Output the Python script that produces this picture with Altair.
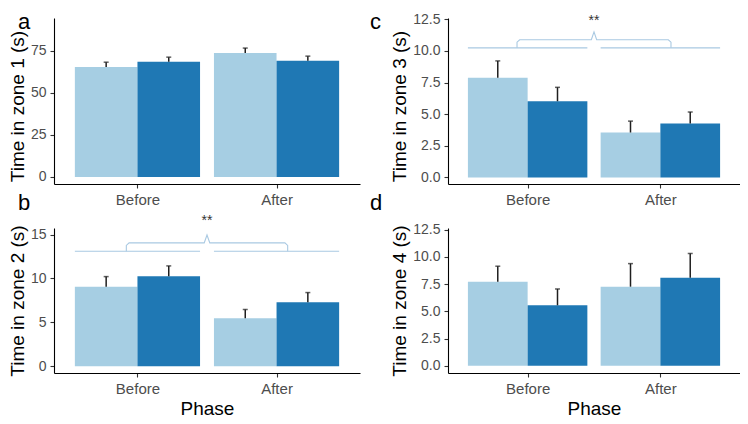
import altair as alt
import pandas as pd

# ---------------- data ----------------
phases = ["Before", "After"]
groups = ["Group 1", "Group 2"]
group_colors = ["#a6cee3", "#1f78b4"]

# mean time per phase (Before, After) and standard error, light = Group 1, dark = Group 2
zone1_g1 = [65.4, 73.8]
zone1_g1_se = [2.9, 2.9]
zone1_g2 = [68.5, 69.2]
zone1_g2_se = [2.8, 2.7]

zone2_g1 = [9.06, 5.46]
zone2_g1_se = [1.15, 1.0]
zone2_g2 = [10.25, 7.28]
zone2_g2_se = [1.18, 1.11]

zone3_g1 = [7.87, 3.55]
zone3_g1_se = [1.34, 0.9]
zone3_g2 = [6.02, 4.27]
zone3_g2_se = [1.1, 0.9]

zone4_g1 = [7.72, 7.27]
zone4_g1_se = [1.43, 2.12]
zone4_g2 = [5.56, 8.10]
zone4_g2_se = [1.5, 2.22]

zone1_ticks = [0, 25, 50, 75]
zone2_ticks = [0, 5, 10, 15]
zone34_ticks = [0, 2.5, 5, 7.5, 10, 12.5]

# significance brace levels: group underline, brace top, brace peak, star label
zone2_brace = [13.1, 14.05, 14.95, 16.6]
zone3_brace = [10.24, 10.88, 11.5, 12.4]
star_text = "**"

DODGE = 0.9
XDOM = [0.4, 2.6]
BRACE_COLOR = "#a9c9e2"
ERR_COLOR = "#1f1f1f"
FONT = "Liberation Sans"


def bar_frame(g1, g1se, g2, g2se):
    rows = []
    for i, ph in enumerate(phases):
        for s, (m, se) in enumerate([(g1[i], g1se[i]), (g2[i], g2se[i])]):
            x0 = i + 1 - DODGE / 2 + s * DODGE / 2
            rows.append(dict(phase=ph, group=groups[s], mean=m, upper=m + se,
                             x0=x0, x1=x0 + DODGE / 2, xm=x0 + DODGE / 4))
    return pd.DataFrame(rows)


def brace_frame(levels):
    base, top, peak, _ = levels
    pts = []
    for i in range(len(phases)):
        pts.append(dict(part=f"u{i}", o=0, x=i + 1 - DODGE / 2, y=base))
        pts.append(dict(part=f"u{i}", o=1, x=i + 1 + DODGE / 2, y=base))
    lo, hi = 1 - 0.08, len(phases) + 0.08
    mid = (1 + len(phases)) / 2
    r = (top - base) * 0.3
    shape = [(lo, base), (lo, top - r), (lo + 0.02, top), (mid - 0.02, top),
             (mid, peak), (mid + 0.02, top), (hi - 0.02, top), (hi, top - r), (hi, base)]
    for k, (x, y) in enumerate(shape):
        pts.append(dict(part="brace", o=k, x=x, y=y))
    return pd.DataFrame(pts)


def panel(df, ticks, ydom, yfmt, ytitle, letter, lpos, width, height, xtitle, title_shift=0, brace=None):
    xs = alt.Scale(domain=XDOM, nice=False, zero=False)
    ys = alt.Scale(domain=ydom, nice=False, zero=False)
    label_expr = "[" + ",".join(f"'{p}'" for p in phases) + "][round(datum.value) - 1]"
    xaxis = alt.Axis(values=[1, 2], labelExpr=label_expr, title=xtitle if xtitle else "",
                     labelFontSize=15, titleFontSize=19, labelPadding=4, titlePadding=3,
                     labelFlush=False)
    yaxis = alt.Axis(values=ticks, format=yfmt, title=ytitle, titleFontSize=19,
                     labelPadding=4, titlePadding=3, titleY=height / 2 + title_shift)
    base = alt.Chart(df)
    bars = base.mark_rect().encode(
        x=alt.X("x0:Q", scale=xs, axis=xaxis),
        x2="x1:Q",
        y=alt.Y("mean:Q", scale=ys, axis=yaxis),
        y2=alt.datum(0),
        color=alt.Color("group:N", scale=alt.Scale(domain=groups, range=group_colors), legend=None),
    )
    err = base.mark_rule(color=ERR_COLOR, strokeWidth=1.5).encode(
        x=alt.X("xm:Q", scale=xs, axis=xaxis),
        y=alt.Y("mean:Q", scale=ys, axis=yaxis),
        y2="upper:Q",
    )
    cap = base.mark_tick(orient="horizontal", size=5, thickness=1.5, color=ERR_COLOR).encode(
        x=alt.X("xm:Q", scale=xs, axis=xaxis),
        y=alt.Y("upper:Q", scale=ys, axis=yaxis),
    )
    layers = [bars, err, cap]
    if brace is not None:
        bdf = brace_frame(brace)
        lines = alt.Chart(bdf).mark_line(color=BRACE_COLOR, strokeWidth=1.1).encode(
            x=alt.X("x:Q", scale=xs, axis=xaxis),
            y=alt.Y("y:Q", scale=ys, axis=yaxis),
            detail="part:N",
            order="o:Q",
        )
        stars = alt.Chart(pd.DataFrame({"x": [(1 + len(phases)) / 2], "y": [brace[3]], "t": [star_text]})).mark_text(
            fontSize=14, color="#333333", baseline="middle", font=FONT
        ).encode(
            x=alt.X("x:Q", scale=xs, axis=xaxis),
            y=alt.Y("y:Q", scale=ys, axis=yaxis),
            text="t:N",
        )
        layers += [lines, stars]
    lab = alt.Chart(pd.DataFrame({"t": [letter]})).mark_text(
        align="left", baseline="alphabetic", fontSize=22, font=FONT, color="#000000"
    ).encode(x=alt.value(lpos[0]), y=alt.value(lpos[1]), text="t:N")
    layers.append(lab)
    return alt.layer(*layers).properties(width=width, height=height)


TOP_H, BOT_H = 166, 145
LEFT_W, RIGHT_W = 306, 292

pa = panel(bar_frame(zone1_g1, zone1_g1_se, zone1_g2, zone1_g2_se), zone1_ticks, [-4.2, 94.6], "d",
           "Time in zone 1 (s)", "a", (-36, 11), LEFT_W, TOP_H, None, title_shift=5)
pc = panel(bar_frame(zone3_g1, zone3_g1_se, zone3_g2, zone3_g2_se), zone34_ticks, [-0.52, 12.6], ".1f",
           "Time in zone 3 (s)", "c", (-78, 11), RIGHT_W, TOP_H, None, title_shift=5, brace=zone3_brace)
pb = panel(bar_frame(zone2_g1, zone2_g1_se, zone2_g2, zone2_g2_se), zone2_ticks, [-0.78, 15.75], "d",
           "Time in zone 2 (s)", "b", (-36, -18), LEFT_W, BOT_H, "Phase", brace=zone2_brace)
pdd = panel(bar_frame(zone4_g1, zone4_g1_se, zone4_g2, zone4_g2_se), zone34_ticks, [-0.66, 12.66], ".1f",
            "Time in zone 4 (s)", "d", (-78, -18), RIGHT_W, BOT_H, "Phase")

chart = alt.concat(
    pa, pc, pb, pdd, columns=2, spacing={"row": 44, "column": 88}, bounds="flush", align="each"
).properties(padding={"left": 0, "top": 3, "right": 0, "bottom": 0}).configure_view(stroke=None).configure_axis(
    grid=False,
    domainColor="#000000",
    domainWidth=1.1,
    tickColor="#333333",
    tickWidth=1.1,
    tickSize=4,
    labelColor="#4d4d4d",
    labelFont=FONT,
    labelFontSize=14,
    titleFont=FONT,
    titleFontWeight="normal",
    titleColor="#000000",
)

chart.save("out.html", embed_options={"renderer": "svg", "actions": False})
